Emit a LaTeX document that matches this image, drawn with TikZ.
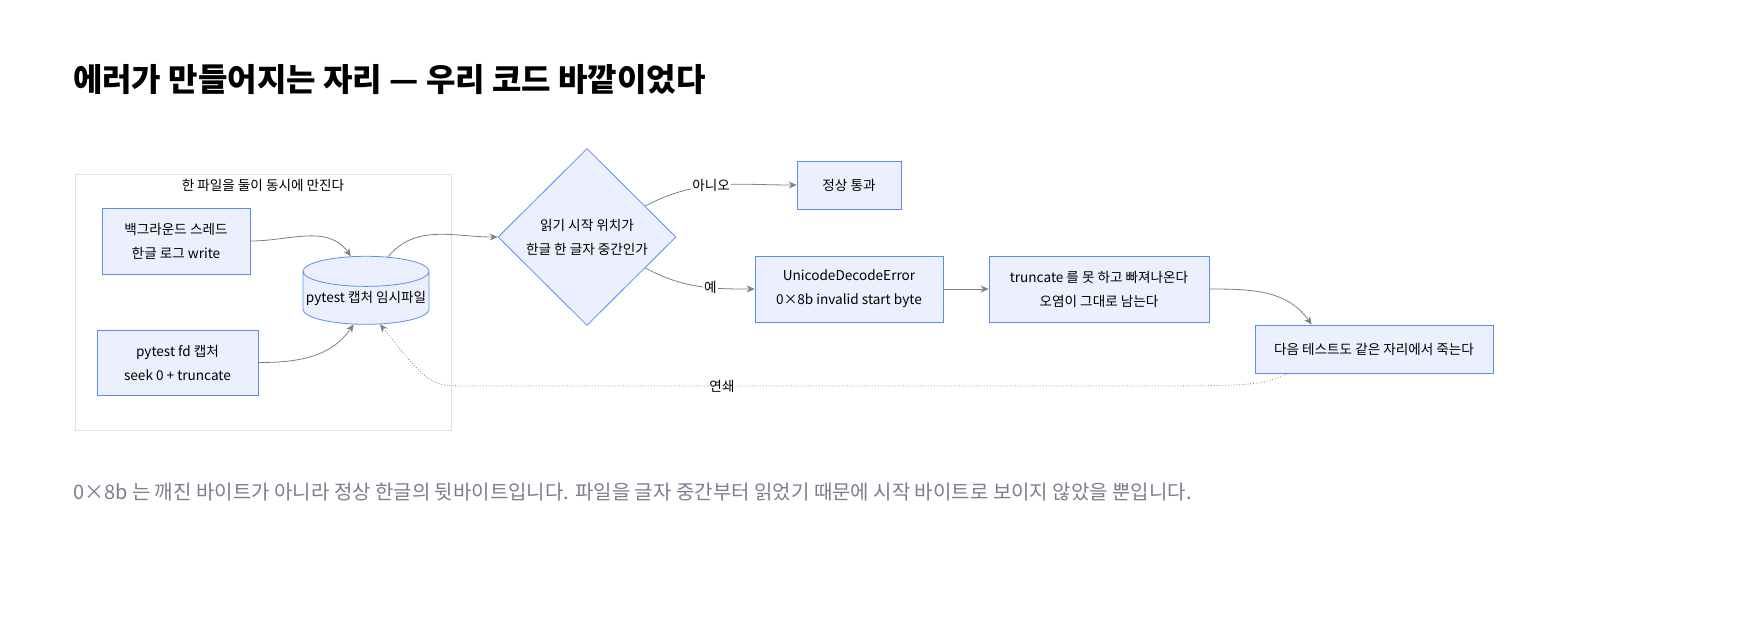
\documentclass[tikz,border=0pt]{standalone}
\usepackage{fontspec}
\setmainfont{Noto Sans CJK KR}
\usetikzlibrary{arrows.meta,positioning,shapes.geometric}
\definecolor{boxfill}{HTML}{ECF0FE}
\definecolor{boxline}{HTML}{5C8DF0}
\definecolor{edgegrey}{HTML}{7D7F8C}
\definecolor{captiongrey}{HTML}{7A7F8E}

\begin{document}
\begin{tikzpicture}[x=0.5pt,y=-0.5pt]

\tikzset{flowbox/.style={font=\fontsize{6.8}{10}\selectfont,fill=boxfill,draw=boxline,align=center,inner sep=0pt,shape=rectangle},
flowedge/.style={draw=edgegrey,-{Stealth[length=4pt,width=3.5pt]}},
edgelabel/.style={font=\fontsize{6.8}{8}\selectfont,fill=white,inner sep=0.5pt}}

\useasboundingbox (0,0) rectangle (1760,634);

% Title and caption
\node[anchor=west,font=\fontsize{16}{18}\selectfont\bfseries] (title) at (66,80) {에러가 만들어지는 자리 — 우리 코드 바깥이었다};
\node[anchor=west,font=\fontsize{10}{12}\selectfont,text=captiongrey] (caption) at (66,492) {0×8b 는 깨진 바이트가 아니라 정상 한글의 뒷바이트입니다. 파일을 글자 중간부터 읽었기 때문에 시작 바이트로 보이지 않았을 뿐입니다.};

% Group
\draw[draw=black!12,fill=white] (75,174) rectangle (451,430);
\node[font=\fontsize{6.8}{8}\selectfont] (grouplabel) at (263,185) {한 파일을 둘이 동시에 만진다};

% Nodes
\node[flowbox,minimum width=74pt,minimum height=33pt] (writer) at (176,241) {백그라운드 스레드\\[2pt]한글 로그 write};
\node[flowbox,minimum width=80.5pt,minimum height=32.5pt] (capture) at (177.5,362.5) {pytest fd 캡처\\[2pt]seek 0 + truncate};
\node[flowbox,shape=cylinder,shape border rotate=90,aspect=0.25,minimum width=63pt,minimum height=34pt] (tmpfile) at (366,298) {pytest 캡처 임시파일};
\node[flowbox,shape=diamond,minimum width=89pt,minimum height=88.5pt] (midchar) at (587,237) {읽기 시작 위치가\\[2pt]한글 한 글자 중간인가};
\node[flowbox,minimum width=52pt,minimum height=24pt] (pass) at (849,185) {정상 통과};
\node[flowbox,minimum width=94pt,minimum height=33pt] (decodeerr) at (849,289) {UnicodeDecodeError\\[2pt]0×8b invalid start byte};
\node[flowbox,minimum width=110pt,minimum height=33pt] (escape) at (1099,289) {truncate 를 못 하고 빠져나온다\\[2pt]오염이 그대로 남는다};
\node[flowbox,minimum width=119pt,minimum height=24pt] (nexttest) at (1374,349) {다음 테스트도 같은 자리에서 죽는다};

% Edges
\draw[flowedge] (writer.east) to[out=0,in=125] (tmpfile.110);
\draw[flowedge] (capture.east) to[out=0,in=-125] (tmpfile.-115);
\draw[flowedge] (tmpfile.62) to[out=50,in=180] (midchar.west);
\draw[flowedge] (midchar.28) to[out=28,in=180] node[edgelabel,pos=0.45] {아니오} (pass.west);
\draw[flowedge] (midchar.-28) to[out=-28,in=180] node[edgelabel,pos=0.62] {예} (decodeerr.west);
\draw[flowedge] (decodeerr.east) -- (escape.west);
\draw[flowedge] (escape.east) to[out=0,in=125] ([xshift=28.5pt]nexttest.north west);
\draw[flowedge,densely dotted] ([xshift=17pt]nexttest.south west) .. controls (1260,386) .. (1100,386) -- node[edgelabel,pos=0.6] {연쇄} (470,386) .. controls (430,386) .. (tmpfile.-62);

\end{tikzpicture}
\end{document}
